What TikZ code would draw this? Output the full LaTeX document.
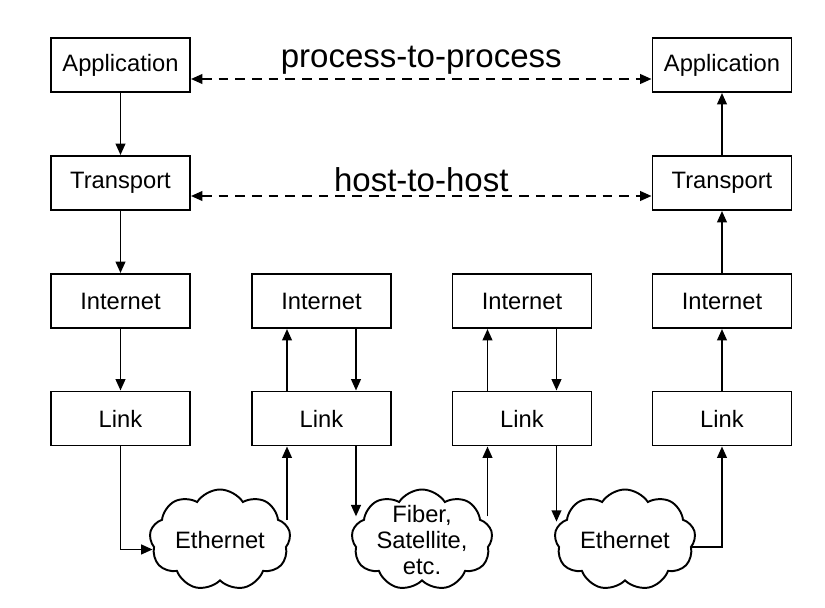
\documentclass[tikz,border=0pt]{standalone}
\usepackage{fontspec}
\setmainfont{Liberation Sans}
\usetikzlibrary{positioning,arrows.meta,shapes,calc}

\begin{document}
\begin{tikzpicture}[
    block/.style={rectangle, draw, line width=1.1pt, minimum width=2.78cm, minimum height=1.08cm, font=\fontsize{13.5}{16}\selectfont},
    arrow/.style={-{Triangle[length=6.5pt,width=5.5pt]}, line width=1.1pt},
    peer/.style={{Triangle[length=6.5pt,width=5.5pt]}-{Triangle[length=6.5pt,width=5.5pt]}, line width=1.1pt, dash pattern=on 5.5pt off 4pt},
    peertext/.style={font=\fontsize{18.8}{22}\selectfont, inner sep=2pt},
    net/.style={cloud, draw, line width=1.1pt, cloud puffs=9, cloud puff arc=115, cloud ignores aspect, minimum width=2.82cm, minimum height=2.02cm, inner sep=0pt, align=center, font=\fontsize{13.5}{15}\selectfont}
]

\useasboundingbox (0,0) rectangle (16.5,12.14);

% Sending host
\node[block] (app1) at (2.41,10.84) {Application};
\node[block] (trans1) at (2.41,8.48) {Transport};
\node[block] (inet1) at (2.41,6.12) {Internet};
\node[block] (link1) at (2.41,3.77) {Link};

% Routers
\node[block] (inet2) at (6.43,6.12) {Internet};
\node[block] (link2) at (6.43,3.77) {Link};
\node[block] (inet3) at (10.44,6.12) {Internet};
\node[block] (link3) at (10.44,3.77) {Link};

% Receiving host
\node[block] (app2) at (14.44,10.84) {Application};
\node[block] (trans2) at (14.44,8.48) {Transport};
\node[block] (inet4) at (14.44,6.12) {Internet};
\node[block] (link4) at (14.44,3.77) {Link};

% Networks
\node[net] (eth1) at (4.40,1.34) {Ethernet};
\node[net, inner sep=-9pt] (fiber) at (8.44,1.34) {Fiber,\\Satellite,\\etc.};
\node[net] (eth2) at (12.50,1.34) {Ethernet};

% Peer communication
\draw[peer] ([yshift=-0.28cm]app1.east) -- node[above, peertext] {process-to-process} ([yshift=-0.28cm]app2.west);
\draw[peer] ([yshift=-0.26cm]trans1.east) -- node[above, peertext] {host-to-host} ([yshift=-0.26cm]trans2.west);

% Down the stack
\draw[arrow] (app1.south) -- (trans1.north);
\draw[arrow] (trans1.south) -- (inet1.north);
\draw[arrow] (inet1.south) -- (link1.north);
\draw[arrow] (link1.south) |- (eth1.188);

% Through the routers
\coordinate (up2) at ([xshift=-0.69cm]link2.south);
\coordinate (dn2) at ([xshift=0.69cm]link2.south);
\coordinate (up3) at ([xshift=-0.69cm]link3.south);
\coordinate (dn3) at ([xshift=0.69cm]link3.south);
\draw[arrow] (up2 |- eth1.18) -- (up2);
\draw[arrow] ([xshift=-0.69cm]link2.north) -- ([xshift=-0.69cm]inet2.south);
\draw[arrow] ([xshift=0.69cm]inet2.south) -- ([xshift=0.69cm]link2.north);
\draw[arrow] (dn2) -- (dn2 |- fiber.158);
\draw[arrow] (up3 |- fiber.22) -- (up3);
\draw[arrow] ([xshift=-0.69cm]link3.north) -- ([xshift=-0.69cm]inet3.south);
\draw[arrow] ([xshift=0.69cm]inet3.south) -- ([xshift=0.69cm]link3.north);
\draw[arrow] (dn3) -- (dn3 |- eth2.164);

% Up the stack
\draw[arrow] (eth2.354) -| (link4.south);
\draw[arrow] (link4.north) -- (inet4.south);
\draw[arrow] (inet4.north) -- (trans2.south);
\draw[arrow] (trans2.north) -- (app2.south);

\end{tikzpicture}
\end{document}
